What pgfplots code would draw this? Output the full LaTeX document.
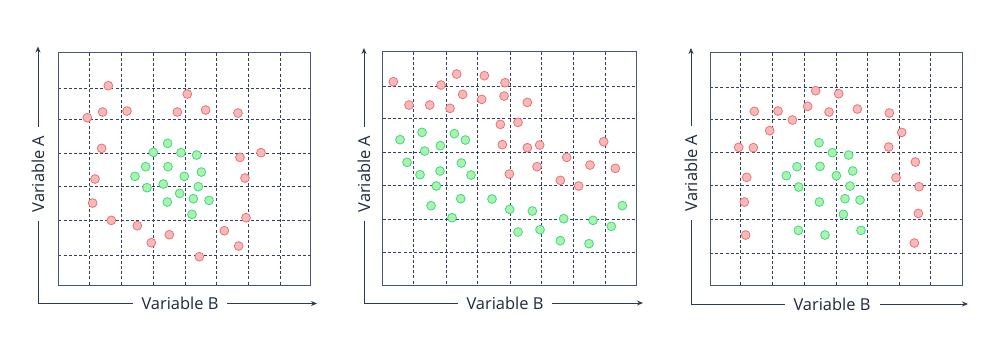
\documentclass[border=0pt]{standalone}
\usepackage{pgfplots}
\pgfplotsset{compat=1.18}
\usetikzlibrary{arrows.meta}
\usepackage{fontspec}
\setmainfont{Open Sans}
\definecolor{redfill}{HTML}{FBB8B8}
\definecolor{redline}{HTML}{E67474}
\definecolor{greenfill}{HTML}{A9F4A9}
\definecolor{greenline}{HTML}{3ED88A}
\definecolor{gridc}{HTML}{34405A}
\definecolor{boxc}{HTML}{4A5670}
\definecolor{arrowc}{HTML}{2C3A55}
\definecolor{textc}{HTML}{1E2B3C}
\pgfplotsset{
  panel/.style={
    scale only axis,
    anchor=north west,
    y dir=reverse,
    xticklabels={}, yticklabels={},
    major tick length=0pt,
    grid=major,
    major grid style={gridc, line width=0.8bp, dash pattern=on 3bp off 2.2bp},
    axis line style={boxc, line width=1bp},
    clip=false,
  },
  reddots/.style={only marks, mark=*, mark size=4.4bp, mark options={fill=redfill, draw=redline, line width=0.8bp}},
  greendots/.style={only marks, mark=*, mark size=4.4bp, mark options={fill=greenfill, draw=greenline, line width=0.8bp}},
}
\begin{document}
\begin{tikzpicture}[x=1bp,y=1bp]
\path (0,0) rectangle (998,-356);
% ---------- Panel 1 ----------
\begin{axis}[panel, at={(58.3bp,-52.7bp)}, width=251.7bp, height=233bp,
  xmin=85, xmax=840, ymin=38, ymax=737,
  xtick={178,275,370,465,560,655,750}, ytick={145,238,340,440,540,645}]
\addplot[reddots] coordinates {
(235,137) (472,162) (172,233) (218,216) (291,213) (442,216) (527,210) (624,219)
(215,325) (630,352) (693,338) (195,417) (645,414) (188,489) (648,533) (244,541)
(322,557) (418,584) (364,608) (583,572) (626,618) (508,650)};
\addplot[greendots] coordinates {
(413,310) (370,337) (453,338) (500,345) (347,380) (414,380) (514,396) (315,409)
(463,409) (351,443) (400,432) (505,440) (449,460) (412,486) (490,476) (537,481) (486,523)};
\end{axis}
% ---------- Panel 2 ----------
\begin{axis}[panel, at={(382.7bp,-51.7bp)}, width=253.3bp, height=233.3bp,
  xmin=68, xmax=828, ymin=35, ymax=735,
  xtick={160,258,352,450,545,640,735}, ytick={140,235,337,437,537,638}]
\addplot[reddots] coordinates {
(100,125) (290,102) (373,107) (435,128) (243,135) (308,163) (365,178) (432,168)
(147,195) (209,195) (270,205) (502,187) (421,253) (474,247) (427,314) (502,323)
(539,315) (731,305) (620,352) (690,375) (766,385) (531,380) (448,402) (601,421) (656,438)};
\addplot[greendots] coordinates {
(120,299) (186,277) (283,281) (316,300) (194,333) (241,317) (141,367) (304,369)
(180,404) (240,393) (333,405) (229,438) (213,497) (302,476) (396,477) (449,508)
(517,513) (276,533) (611,536) (699,541) (787,497) (754,559) (474,576) (540,569)
(601,602) (687,611)};
\end{axis}
% ---------- Panel 3 ----------
\begin{axis}[panel, at={(710bp,-52.7bp)}, width=252.7bp, height=232.3bp,
  xmin=90, xmax=848, ymin=38, ymax=735,
  xtick={180,277,373,468,563,657,752}, ytick={143,237,338,437,538,641}]
\addplot[reddots] coordinates {
(407,152) (476,161) (223,214) (294,213) (383,199) (447,216) (532,207) (628,219)
(337,240) (269,272) (665,277) (176,322) (220,323) (626,321) (706,366) (200,412)
(648,413) (717,440) (193,486) (715,520) (197,585) (703,609)};
\addplot[greendots] coordinates {
(417,308) (457,338) (506,345) (351,380) (420,379) (518,393) (319,407) (469,407)
(356,441) (510,438) (418,486) (495,476) (540,480) (490,523) (355,571) (435,585) (543,571)};
\end{axis}
% ---------- Axis arrows and labels ----------
\tikzset{arr/.style={arrowc, line width=1bp, -{Stealth[length=6bp,width=5bp]}},
         lab/.style={fill=white, text=textc, font=\fontsize{16.5}{19}\selectfont, inner xsep=9bp, inner ysep=1bp}}
% panel 1
\draw[arr] (38,-303.5) -- (38,-46.5);
\draw[arr] (38,-303.5) -- (317,-303.5);
\node[lab, rotate=90] at (38,-174) {Variable A};
\node[lab] at (180,-303.5) {Variable B};
% panel 2
\draw[arr] (364,-303) -- (364,-48);
\draw[arr] (364,-303) -- (643,-303);
\node[lab, rotate=90] at (364,-174) {Variable A};
\node[lab] at (505,-303) {Variable B};
% panel 3
\draw[arr] (691,-304) -- (691,-48);
\draw[arr] (691,-304) -- (968,-304);
\node[lab, rotate=90] at (691,-173) {Variable A};
\node[lab] at (832,-304) {Variable B};
\end{tikzpicture}
\end{document}
